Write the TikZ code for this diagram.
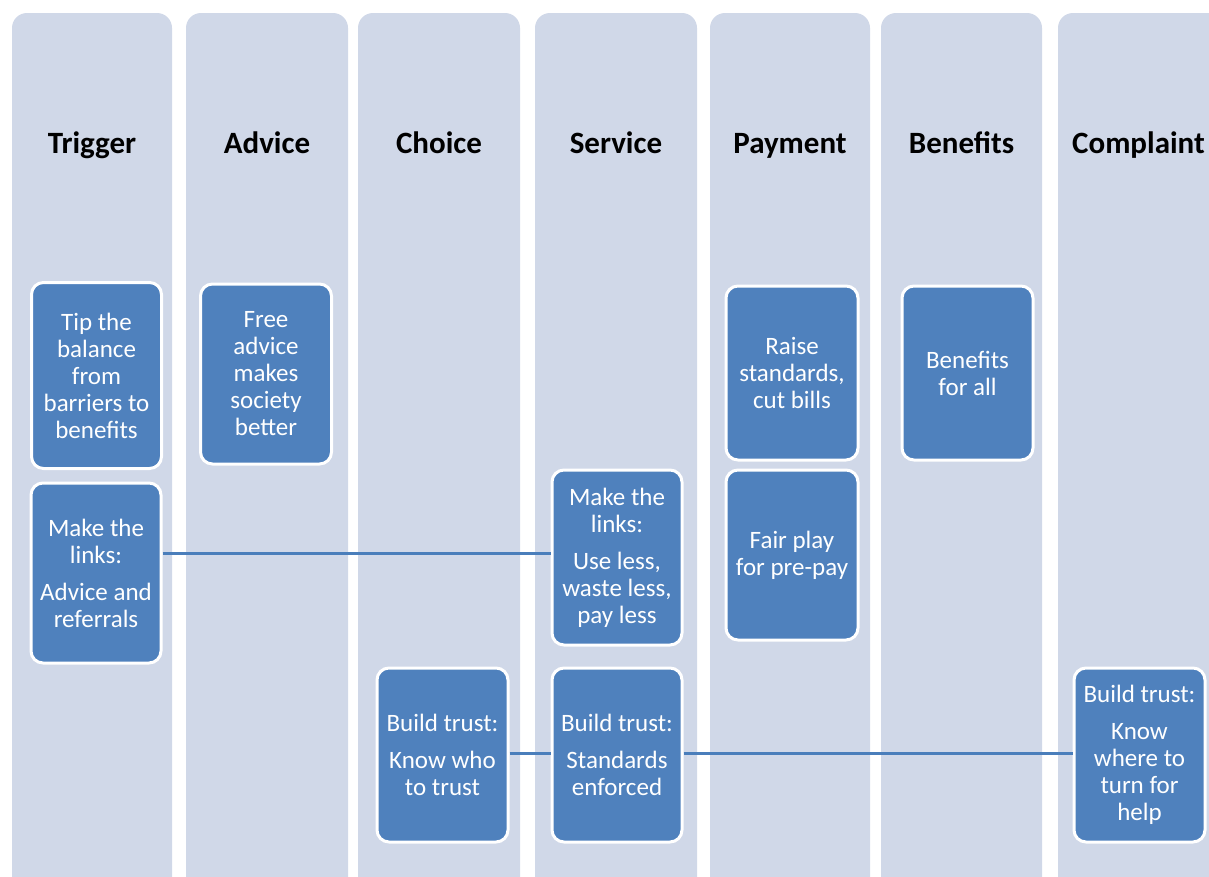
\documentclass[tikz,border=0pt]{standalone}
\usepackage{fontspec}
\setmainfont{Carlito}
\definecolor{colbg}{HTML}{D0D8E8}
\definecolor{boxblue}{HTML}{4F81BD}
\definecolor{linkblue}{HTML}{4A7EBB}
\tikzset{
  lane/.style={fill=colbg, draw=none, rounded corners=15pt},
  title/.style={font=\fontsize{31}{36}\selectfont\bfseries, text=black, inner sep=0pt, anchor=base},
  card/.style={fill=boxblue, draw=white, line width=3pt, rounded corners=12pt,
    text=white, align=center, inner sep=0pt, font=\fontsize{25}{27}\selectfont},
  link/.style={draw=linkblue, line width=3pt}
}
\begin{document}
\begin{tikzpicture}[x=1pt,y=-1pt]
\useasboundingbox (0,0) rectangle (1209,876);
\clip (0,0) rectangle (1209,876);
\fill[white] (0,0) rectangle (1209,876);
% lanes
\fill[lane] (12,13) rectangle (172,920);
\fill[lane] (186,13) rectangle (348,920);
\fill[lane] (358,13) rectangle (520,920);
\fill[lane] (535,13) rectangle (697,920);
\fill[lane] (710,13) rectangle (870,920);
\fill[lane] (881,13) rectangle (1042,920);
\fill[lane] (1058,13) rectangle (1260,920);
% titles
\node[title] (t1) at (92,153) {Trigger};
\node[title] (t2) at (267,153) {Advice};
\node[title] (t3) at (439,153) {Choice};
\node[title] (t4) at (616,153) {Service};
\node[title] (t5) at (790,153) {Payment};
\node[title] (t6) at (961.5,153) {Benefits};
\node[title, anchor=base west] (t7) at (1072,153) {Complaint};
% cards
\node[card, minimum width=130pt, minimum height=186pt] (A) at (96.5,375.5)
  {Tip the\\balance\\from\\barriers to\\benefits};
\node[card, minimum width=130pt, minimum height=180pt] (B) at (96,573)
  {Make the\\links:\\[10pt]Advice and\\referrals};
\node[card, minimum width=131pt, minimum height=180pt] (C) at (266,374)
  {Free\\advice\\makes\\society\\better};
\node[card, minimum width=130pt, minimum height=175pt] (D) at (617,557.5)
  {Make the\\links:\\[10pt]Use less,\\waste less,\\pay less};
\node[card, minimum width=131pt, minimum height=174pt] (E) at (442.5,755)
  {Build trust:\\[10pt]Know who\\to trust};
\node[card, minimum width=130pt, minimum height=174pt] (F) at (617,755)
  {Build trust:\\[10pt]Standards\\enforced};
\node[card, minimum width=132pt, minimum height=174pt] (G) at (792,373)
  {Raise\\standards,\\cut bills};
\node[card, minimum width=132pt, minimum height=170pt] (H) at (792,555)
  {Fair play\\for pre-pay};
\node[card, minimum width=131pt, minimum height=174pt] (I) at (967.5,373)
  {Benefits\\for all};
\node[card, minimum width=131pt, minimum height=174pt] (J) at (1139.5,755)
  {Build trust:\\[10pt]Know\\where to\\turn for\\help};
% connectors
\coordinate (ly1) at (0,553);
\coordinate (ly2) at (0,753);
\draw[link] (B.east |- ly1) -- (D.west |- ly1);
\draw[link] (E.east |- ly2) -- (F.west |- ly2);
\draw[link] (F.east |- ly2) -- (J.west |- ly2);
\end{tikzpicture}
\end{document}
